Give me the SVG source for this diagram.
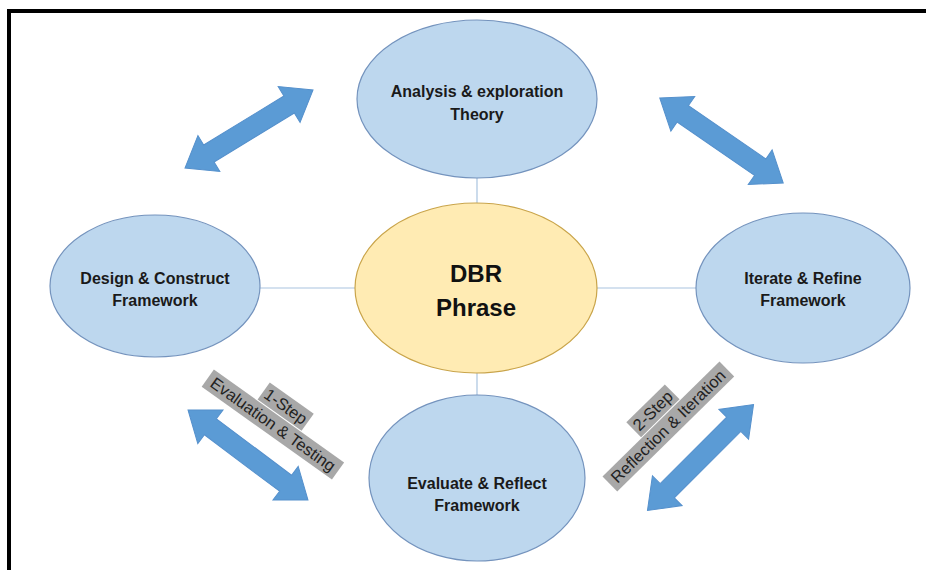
<svg xmlns="http://www.w3.org/2000/svg" width="926" height="570" viewBox="0 0 926 570">
  <defs>
    <style>
      .stage { fill: #BDD7EE; stroke: #7493BD; stroke-width: 1.2; }
      .core { fill: #FFEBB3; stroke: #C9A44A; stroke-width: 1.2; }
      .label { font-family: "Liberation Sans", Arial, sans-serif; font-weight: bold; font-size: 16px; fill: #1a1a1a; text-anchor: middle; }
      .core-label { font-family: "Liberation Sans", Arial, sans-serif; font-weight: bold; font-size: 24px; fill: #111; text-anchor: middle; }
      .link { stroke: #A9C4E0; stroke-width: 1.2; fill: none; }
      .flow { fill: #5B9BD5; stroke: #5590CC; stroke-width: 1; }
      .tag-box { fill: #A8A8A8; }
      .tag { font-family: "Liberation Sans", Arial, sans-serif; font-size: 16.5px; fill: #222; text-anchor: middle; }
    </style>
    <!-- double-headed block arrow, 150 long, centred on the origin -->
    <path id="dbl-arrow" d="M-75,0 L-47,-21 L-47,-10 L47,-10 L47,-21 L75,0 L47,21 L47,10 L-47,10 L-47,21 Z"/>
  </defs>

  <rect x="0" y="0" width="926" height="570" fill="#ffffff"/>
  <!-- frame: top and left edges -->
  <path d="M9,570 V11 H926" fill="none" stroke="#000" stroke-width="4"/>

  <!-- connectors -->
  <g id="connectors">
    <line class="link" x1="477" y1="178" x2="477" y2="203"/>
    <line class="link" x1="477" y1="373" x2="477" y2="395"/>
    <line class="link" x1="260" y1="288" x2="355" y2="288"/>
    <line class="link" x1="597" y1="288" x2="697" y2="288"/>
    <use href="#dbl-arrow" class="flow" transform="translate(249,129) rotate(-31.4)"/>
    <use href="#dbl-arrow" class="flow" transform="translate(721.5,140.5) rotate(34.6)"/>
    <use href="#dbl-arrow" class="flow" transform="translate(248,455) rotate(36.9)"/>
    <use href="#dbl-arrow" class="flow" transform="translate(700.5,457.5) rotate(-45)"/>
  </g>

  <g id="node-analysis">
    <ellipse class="stage" cx="477" cy="99" rx="120" ry="79"/>
    <text class="label" x="477" y="97">Analysis &amp; exploration</text>
    <text class="label" x="477" y="120">Theory</text>
  </g>

  <g id="node-design">
    <ellipse class="stage" cx="155" cy="286" rx="105" ry="71"/>
    <text class="label" x="155" y="284">Design &amp; Construct</text>
    <text class="label" x="155" y="306">Framework</text>
  </g>

  <g id="node-dbr">
    <ellipse class="core" cx="476" cy="288" rx="121" ry="85"/>
    <text class="core-label" x="476" y="282">DBR</text>
    <text class="core-label" x="476" y="316">Phrase</text>
  </g>

  <g id="node-iterate">
    <ellipse class="stage" cx="803" cy="288" rx="107" ry="75"/>
    <text class="label" x="803" y="284">Iterate &amp; Refine</text>
    <text class="label" x="803" y="306">Framework</text>
  </g>

  <g id="node-evaluate">
    <ellipse class="stage" cx="477" cy="478" rx="108" ry="83"/>
    <text class="label" x="477" y="489">Evaluate &amp; Reflect</text>
    <text class="label" x="477" y="511">Framework</text>
  </g>

  <g id="tag-step1" transform="translate(279,416) rotate(35.5)">
    <rect class="tag-box" x="-27" y="-22" width="54" height="21"/>
    <rect class="tag-box" x="-80" y="0" width="160" height="21"/>
    <text class="tag" x="0" y="-6">1-Step</text>
    <text class="tag" x="0" y="16">Evaluation &amp; Testing</text>
  </g>

  <g id="tag-step2" transform="translate(661,419) rotate(-44.5)">
    <rect class="tag-box" x="-27" y="-22" width="54" height="21"/>
    <rect class="tag-box" x="-82" y="0" width="164" height="21"/>
    <text class="tag" x="0" y="-6">2-Step</text>
    <text class="tag" x="0" y="16">Reflection &amp; Iteration</text>
  </g>
</svg>
